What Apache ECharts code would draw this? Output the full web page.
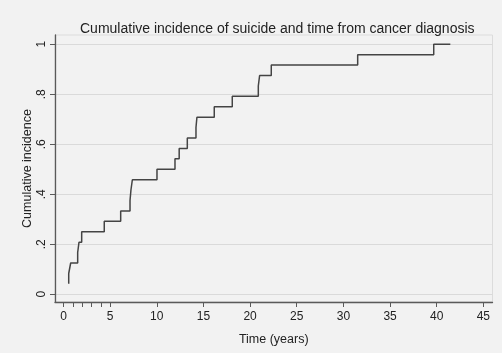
<!DOCTYPE html>
<html>
<head>
<meta charset="utf-8">
<script src="https://cdn.jsdelivr.net/npm/echarts@6/dist/echarts.min.js"></script>
<style>
html,body{margin:0;padding:0;background:#f2f2f2;}
#c{width:502px;height:353px;}
</style>
</head>
<body>
<div id="c"></div>
<script>
// Data (time in years, cumulative incidence)
var times = [0.56, 0.56, 0.77, 1.52, 1.66, 1.95, 4.37, 6.13, 7.13, 7.23, 7.38, 10.02, 11.95, 12.40, 13.27, 14.20, 14.30, 16.16, 18.09, 20.88, 21.02, 22.27, 31.53, 39.68, 41.46];
var incidence = [0.042, 0.083, 0.125, 0.167, 0.208, 0.250, 0.292, 0.333, 0.375, 0.417, 0.458, 0.500, 0.542, 0.583, 0.625, 0.667, 0.708, 0.750, 0.792, 0.833, 0.875, 0.917, 0.958, 1.000, 1.000];
var xLabelValues = [0, 5, 10, 15, 20, 25, 30, 35, 40, 45];
var xTickValues = [0, 1, 2, 3, 4, 5, 10, 15, 20, 25, 30, 35, 40, 45];
var yTickValues = [0, 0.2, 0.4, 0.6, 0.8, 1];
var yTickText = {"0": "0", "0.2": ".2", "0.4": ".4", "0.6": ".6", "0.8": ".8", "1": "1"};

var seriesData = times.map(function (t, i) { return [t, incidence[i]]; });

var chart = echarts.init(document.getElementById('c'), null, {renderer: 'canvas'});
var font = '"Liberation Sans", Arial, sans-serif';
chart.setOption({
  backgroundColor: '#f2f2f2',
  animation: false,
  title: {
    text: 'Cumulative incidence of suicide and time from cancer diagnosis',
    left: 75,
    top: 17,
    textStyle: {fontFamily: font, fontSize: 14, fontWeight: 'normal', color: '#222'}
  },
  grid: {
    left: 55, right: 9.5, top: 35, bottom: 51,
    show: true, borderColor: '#dcdcdc', borderWidth: 1, backgroundColor: 'transparent'
  },
  xAxis: {
    type: 'value',
    min: -0.91, max: 45.98,
    name: 'Time (years)',
    nameLocation: 'middle',
    nameGap: 31,
    nameMoveOverlap: false,
    nameTextStyle: {fontFamily: font, fontSize: 12.5, color: '#222'},
    axisLine: {show: true, onZero: false, lineStyle: {color: '#5a5a5a', width: 1.3}},
    axisTick: {show: true, length: 5, customValues: xTickValues, lineStyle: {color: '#5a5a5a', width: 1}},
    axisLabel: {customValues: xLabelValues, margin: 9, fontFamily: font, fontSize: 12, color: '#222'},
    splitLine: {show: false}
  },
  yAxis: {
    type: 'value',
    min: -0.031, max: 1.037,
    name: 'Cumulative incidence',
    nameLocation: 'middle',
    nameGap: 21,
    nameMoveOverlap: false,
    nameTextStyle: {fontFamily: font, fontSize: 12.5, color: '#222'},
    axisLine: {show: true, onZero: false, lineStyle: {color: '#5a5a5a', width: 1.3}},
    axisTick: {show: true, length: 5, customValues: yTickValues, lineStyle: {color: '#5a5a5a', width: 1}},
    axisLabel: {
      customValues: yTickValues, rotate: 90, margin: 7,
      fontFamily: font, fontSize: 12, color: '#222',
      formatter: function (v) { var k = String(Math.round(v * 10) / 10); return yTickText[k] !== undefined ? yTickText[k] : k; }
    },
    splitLine: {show: true, lineStyle: {color: '#dadada', width: 1}}
  },
  series: [{
    type: 'line',
    step: 'end',
    data: seriesData,
    showSymbol: false,
    symbol: 'none',
    lineStyle: {color: '#444', width: 1.5}
  }]
});
</script>
</body>
</html>
